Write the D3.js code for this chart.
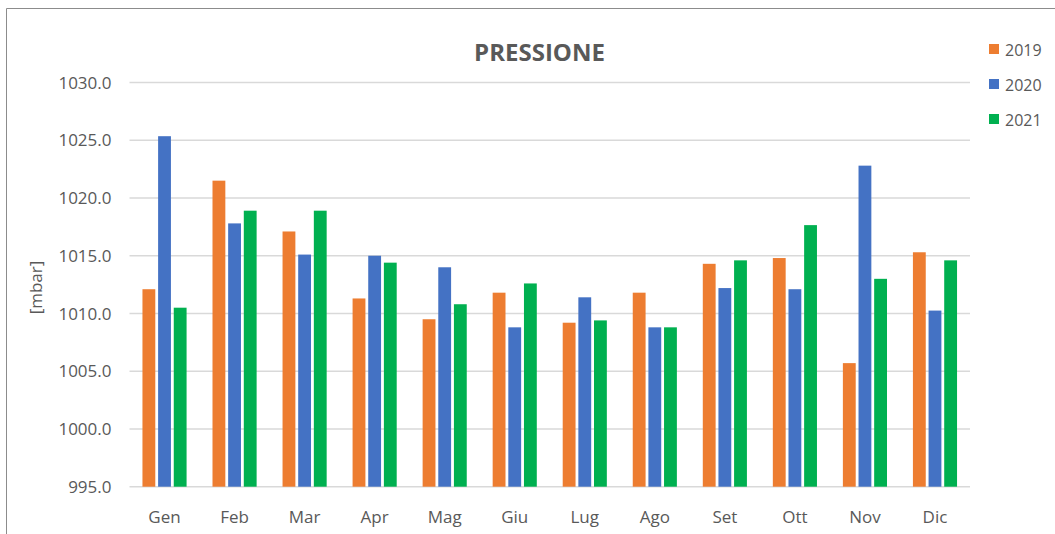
<!DOCTYPE html>
<html>
<head>
<meta charset="utf-8">
<script src="https://cdn.jsdelivr.net/npm/d3@7"></script>
<style>
  body { margin: 0; background: #fff; }
  text { font-family: "Open Sans", sans-serif; fill: #595959; }
</style>
</head>
<body>
<script>
  const months = ["Gen","Feb","Mar","Apr","Mag","Giu","Lug","Ago","Set","Ott","Nov","Dic"];
  const years  = ["2019","2020","2021"];
  const colors = ["#ED7D31","#4472C4","#00B050"];

  // pressione media mensile [mbar]
  const p2019 = [1012.1,1021.5,1017.1,1011.3,1009.5,1011.8,1009.2,1011.8,1014.3,1014.8,1005.7,1015.3];
  const p2020 = [1025.35,1017.8,1015.1,1015.0,1014.0,1008.8,1011.4,1008.8,1012.2,1012.1,1022.8,1010.25];
  const p2021 = [1010.5,1018.9,1018.9,1014.4,1010.8,1012.6,1009.4,1008.8,1014.6,1017.65,1013.0,1014.6];
  const yTicks = [995,1000,1005,1010,1015,1020,1025,1030];

  const series = [p2019, p2020, p2021];

  const W = 1055, H = 534;
  const svg = d3.select("body").append("svg")
      .attr("width", W).attr("height", H);

  // cornice
  svg.append("path")
      .attr("d", "M6.5,534 V8.5 H1055")
      .attr("fill", "none").attr("stroke", "#8c8c8c").attr("stroke-width", 1);

  const x = d3.scaleBand().domain(months).range([129.5, 970])
      .paddingInner(0.37).paddingOuter(0.185);
  const xs = d3.scaleBand().domain(years).range([0, x.bandwidth()]).paddingInner(0.18);
  const y = d3.scaleLinear().domain([995, 1030]).range([486.7, 82.5]);

  // griglia
  svg.append("g").selectAll("line")
    .data(yTicks).enter().append("line")
      .attr("x1", 129.5).attr("x2", 970)
      .attr("y1", d => y(d)).attr("y2", d => y(d))
      .attr("stroke", "#d9d9d9").attr("stroke-width", 1.5);

  svg.append("g").selectAll("text")
    .data(yTicks).enter().append("text")
      .attr("x", 111.5).attr("y", d => y(d)).attr("dy", "0.36em")
      .attr("text-anchor", "end").style("font-size", "17px")
      .text(d => d3.format(".1f")(d));

  // barre
  years.forEach((yr, k) => {
    svg.append("g").selectAll("rect")
      .data(months).enter().append("rect")
        .attr("x", m => x(m) + xs(yr))
        .attr("width", xs.bandwidth())
        .attr("y", (m, i) => y(series[k][i]))
        .attr("height", (m, i) => y(995) - y(series[k][i]))
        .attr("fill", colors[k]);
  });

  svg.append("g").selectAll("text")
    .data(months).enter().append("text")
      .attr("x", d => x(d) + x.bandwidth() / 2).attr("y", 522.5)
      .attr("text-anchor", "middle").style("font-size", "17px")
      .text(d => d);

  svg.append("text")
      .attr("transform", "translate(42,287.5) rotate(-90)")
      .attr("text-anchor", "middle").style("font-size", "17px")
      .text("[mbar]");

  svg.append("text")
      .attr("x", 539.5).attr("y", 60.7)
      .attr("text-anchor", "middle")
      .style("font-size", "24px").style("font-weight", "bold")
      .text("PRESSIONE");

  // legenda
  const leg = svg.append("g").selectAll("g")
    .data(years).enter().append("g")
      .attr("transform", (d, i) => "translate(989," + (44 + i * 35) + ")");
  leg.append("rect").attr("width", 10).attr("height", 10)
      .attr("fill", (d, i) => colors[i]);
  leg.append("text").attr("x", 16).attr("y", 11.5)
      .style("font-size", "16px").text(d => d);
</script>
</body>
</html>
